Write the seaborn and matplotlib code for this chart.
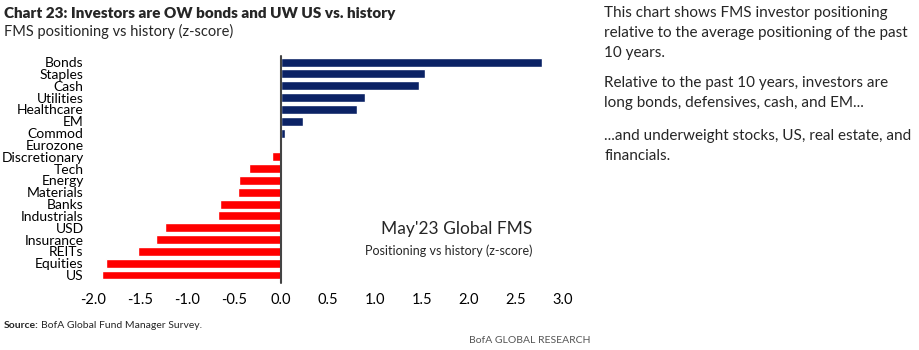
import matplotlib
matplotlib.use("Agg")
import matplotlib.pyplot as plt
import seaborn as sns
import pandas as pd

categories = ["Bonds", "Staples", "Cash", "Utilities", "Healthcare", "EM", "Commod",
              "Eurozone", "Discretionary", "Tech", "Energy", "Materials", "Banks",
              "Industrials", "USD", "Insurance", "REITs", "Equities", "US"]
zscores = [2.78, 1.53, 1.47, 0.90, 0.81, 0.24, 0.05,
           -0.02, -0.09, -0.34, -0.44, -0.45, -0.65,
           -0.67, -1.23, -1.33, -1.52, -1.86, -1.90]
xticks = [-2.0, -1.5, -1.0, -0.5, 0.0, 0.5, 1.0, 1.5, 2.0, 2.5, 3.0]

NAVY = "#0b2265"
RED = "#ff0000"

sns.set_theme(style="white")
plt.rcParams["font.family"] = ["Lato", "DejaVu Sans"]

df = pd.DataFrame({"cat": categories, "z": zscores})
df["side"] = ["pos" if v >= 0 else "neg" for v in df["z"]]

fig = plt.figure(figsize=(9.2, 3.5), dpi=100)
ax = fig.add_axes([0.1008, 0.1974, 0.5109, 0.642])
sns.barplot(data=df, x="z", y="cat", hue="side", palette={"pos": NAVY, "neg": RED},
            dodge=False, legend=False, width=0.76, orient="h", ax=ax, saturation=1)

ax.set_xlim(-2.0, 3.0)
ax.set_ylim(len(categories) - 0.5, -0.5)
ax.axvline(0, color="#444444", lw=1.5, ymin=-0.01, clip_on=False)
ax.set_xticks(xticks)
ax.set_xticklabels([f"{t:.1f}" for t in xticks])
ax.tick_params(axis="x", length=0, pad=9, labelsize=10.5, colors="black")
ax.tick_params(axis="y", length=0, pad=6.5, labelsize=10, colors="black")
ax.set_xlabel("")
ax.set_ylabel("")
for s in ax.spines.values():
    s.set_visible(False)

ax.text(0.935, 0.23, "May'23 Global FMS", transform=ax.transAxes, ha="right",
        va="center", fontsize=12.5)
ax.text(0.935, 0.135, "Positioning vs history (z-score)", transform=ax.transAxes,
        ha="right", va="center", fontsize=9)

fig.text(0.004, 0.962, "Chart 23: Investors are OW bonds and UW US vs. history",
         fontsize=11, fontweight="heavy", va="center")
fig.text(0.004, 0.91, "FMS positioning vs history (z-score)", fontsize=10.5, va="center")

fig.text(0.004, 0.07, "Source:", fontsize=7.5, fontweight="bold", va="center")
fig.text(0.045, 0.07, "BofA Global Fund Manager Survey.", fontsize=7.5, va="center")
fig.text(0.642, 0.027, "BofA GLOBAL RESEARCH", fontsize=7.5, va="center",
         ha="right", color="#555555")

para = [
    (0.963, "This chart shows FMS investor positioning"),
    (0.906, "relative to the average positioning of the past"),
    (0.849, "10 years."),
    (0.763, "Relative to the past 10 years, investors are"),
    (0.706, "long bonds, defensives, cash, and EM..."),
    (0.612, "...and underweight stocks, US, real estate, and"),
    (0.555, "financials."),
]
for y, line in para:
    fig.text(0.657, y, line, fontsize=11, va="center")

fig.savefig("out.png", dpi=100)
